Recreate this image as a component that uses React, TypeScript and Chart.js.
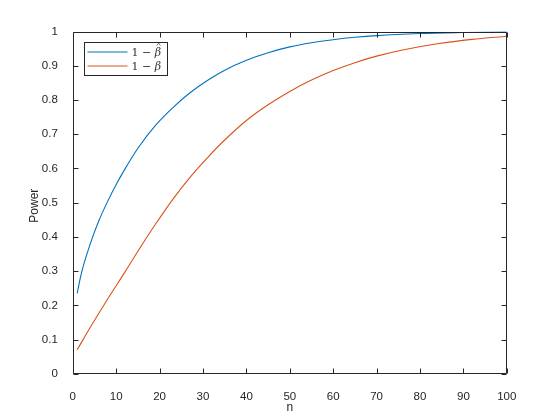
import React, { useEffect, useRef } from "react";
import { Chart, registerables } from "chart.js";
Chart.register(...registerables);

// Sample sizes and power values
const nEstimated = [1, 2, 4, 6, 8, 10, 12, 15, 19, 23, 27, 31, 35, 40, 45, 50, 55, 60, 65, 70, 80, 90, 100];
const powerEstimated = [0.235, 0.295, 0.379, 0.447, 0.503, 0.553, 0.598, 0.659, 0.725, 0.777, 0.821, 0.857, 0.887, 0.916, 0.938, 0.955, 0.967, 0.976, 0.983, 0.988, 0.994, 0.997, 0.999];
const nTrue = [1, 4, 8, 12, 15, 19, 23, 27, 31, 35, 40, 45, 50, 55, 60, 65, 70, 76, 84, 92, 100];
const powerTrue = [0.07, 0.135, 0.218, 0.297, 0.358, 0.436, 0.509, 0.574, 0.631, 0.683, 0.74, 0.786, 0.825, 0.858, 0.886, 0.909, 0.928, 0.946, 0.964, 0.977, 0.986];
const seriesLabels = ["1 − β̂", "1 − β"];
const seriesColors = ["#0072BD", "#D95319"];
const xTickValues = [0, 10, 20, 30, 40, 50, 60, 70, 80, 90, 100];
const yTickValues = [0, 0.1, 0.2, 0.3, 0.4, 0.5, 0.6, 0.7, 0.8, 0.9, 1];
const xTitle = "n";
const yTitle = "Power";

const AXIS_COLOR = "#262626";
const FONT = "'Liberation Sans', Arial, Helvetica, sans-serif";
const SERIF = "'DejaVu Serif', 'Liberation Serif', serif";

const matlabPlugin = {
  id: "matlabDecor",
  afterDraw(chart: any) {
    const { ctx, chartArea: ca, scales } = chart;
    ctx.save();
    ctx.strokeStyle = AXIS_COLOR;
    ctx.lineWidth = 1;
    const L = Math.round(ca.left) + 0.5;
    const R = Math.round(ca.right) - 0.5;
    const T = Math.round(ca.top) + 0.5;
    const B = Math.round(ca.bottom) - 0.5;
    ctx.beginPath();
    ctx.rect(L, T, R - L, B - T);
    const tl = 5;
    xTickValues.forEach((v) => {
      const px = Math.round(scales.x.getPixelForValue(v)) + 0.5;
      ctx.moveTo(px, B);
      ctx.lineTo(px, B - tl);
      ctx.moveTo(px, T);
      ctx.lineTo(px, T + tl);
    });
    yTickValues.forEach((v) => {
      const py = Math.round(scales.y.getPixelForValue(v)) + 0.5;
      ctx.moveTo(L, py);
      ctx.lineTo(L + tl, py);
      ctx.moveTo(R, py);
      ctx.lineTo(R - tl, py);
    });
    ctx.stroke();

    // axis titles
    ctx.fillStyle = AXIS_COLOR;
    ctx.font = `12px ${FONT}`;
    ctx.textAlign = "center";
    ctx.textBaseline = "middle";
    ctx.fillText(xTitle, (ca.left + ca.right) / 2, 408);
    ctx.save();
    ctx.translate(35, (ca.top + ca.bottom) / 2 + 3);
    ctx.rotate(-Math.PI / 2);
    ctx.fillText(yTitle, 0, 0);
    ctx.restore();

    // legend
    const bx = Math.round(ca.left) + 11.5;
    const by = Math.round(ca.top) + 10.5;
    const bw = 83;
    const bh = 33;
    ctx.fillStyle = "#ffffff";
    ctx.fillRect(bx, by, bw, bh);
    ctx.strokeStyle = AXIS_COLOR;
    ctx.lineWidth = 1;
    ctx.strokeRect(bx, by, bw, bh);
    chart.data.datasets.forEach((ds: any, i: number) => {
      const y = by + 9.5 + i * 14;
      ctx.strokeStyle = ds.borderColor;
      ctx.lineWidth = 1;
      ctx.beginPath();
      ctx.moveTo(bx + 3, y);
      ctx.lineTo(bx + 43, y);
      ctx.stroke();
      const label: string = ds.label;
      const hasHat = label.indexOf("\u0302") >= 0;
      const clean = label.replace("\u0302", "");
      const idx = clean.indexOf("β");
      const pre = clean.slice(0, idx);
      const sym = clean.slice(idx);
      ctx.fillStyle = "#333333";
      ctx.textAlign = "left";
      ctx.textBaseline = "middle";
      ctx.font = `11px ${SERIF}`;
      let tx = bx + 47;
      ctx.fillText(pre, tx, y + 1);
      tx += ctx.measureText(pre).width;
      ctx.font = `italic 11px ${SERIF}`;
      ctx.fillText(sym, tx, y + 1);
      if (hasHat) {
        const w = ctx.measureText(sym).width;
        ctx.strokeStyle = "#555555";
        ctx.lineWidth = 0.8;
        ctx.beginPath();
        ctx.moveTo(tx + w * 0.35, y - 6.5);
        ctx.lineTo(tx + w * 0.62, y - 9);
        ctx.lineTo(tx + w * 0.89, y - 6.5);
        ctx.stroke();
      }
    });
    ctx.restore();
  },
};

export default function App() {
  const canvasRef = useRef<HTMLCanvasElement | null>(null);
  useEffect(() => {
    const canvas = canvasRef.current;
    if (!canvas) return;
    const chart = new Chart(canvas, {
      type: "line",
      data: {
        datasets: [
          {
            label: seriesLabels[0],
            data: nEstimated.map((n, i) => ({ x: n, y: powerEstimated[i] })),
            borderColor: seriesColors[0],
            borderWidth: 1.1,
            pointRadius: 0,
            fill: false,
            cubicInterpolationMode: "monotone",
          },
          {
            label: seriesLabels[1],
            data: nTrue.map((n, i) => ({ x: n, y: powerTrue[i] })),
            borderColor: seriesColors[1],
            borderWidth: 1.1,
            pointRadius: 0,
            fill: false,
            cubicInterpolationMode: "monotone",
          },
        ],
      },
      options: {
        responsive: false,
        animation: false,
        devicePixelRatio: 1,
        layout: { padding: { left: 0, top: 31.5, right: 53.2, bottom: 0 } },
        plugins: { legend: { display: false }, tooltip: { enabled: false } },
        scales: {
          x: {
            type: "linear",
            min: 0,
            max: 100,
            afterBuildTicks: (s: any) => {
              s.ticks = xTickValues.map((v) => ({ value: v }));
            },
            afterFit: (s: any) => {
              s.height = 46.2;
            },
            grid: { display: false },
            border: { display: false },
            ticks: {
              color: AXIS_COLOR,
              font: { family: FONT, size: 11.5 },
              padding: 8,
              maxRotation: 0,
              autoSkip: false,
            },
          },
          y: {
            type: "linear",
            min: 0,
            max: 1,
            afterBuildTicks: (s: any) => {
              s.ticks = yTickValues.map((v) => ({ value: v }));
            },
            afterFit: (s: any) => {
              s.width = 72.8;
            },
            grid: { display: false },
            border: { display: false },
            ticks: {
              color: AXIS_COLOR,
              font: { family: FONT, size: 11.5 },
              padding: 7,
              autoSkip: false,
              callback: (v: any) => String(Math.round(Number(v) * 10) / 10),
            },
          },
        },
      },
      plugins: [matlabPlugin],
    } as any);
    return () => chart.destroy();
  }, []);
  return (
    <div style={{ position: "fixed", left: 0, top: 0, width: 560, height: 420, background: "#fff" }}>
      <canvas ref={canvasRef} width={560} height={420} style={{ width: 560, height: 420, display: "block" }} />
    </div>
  );
}
